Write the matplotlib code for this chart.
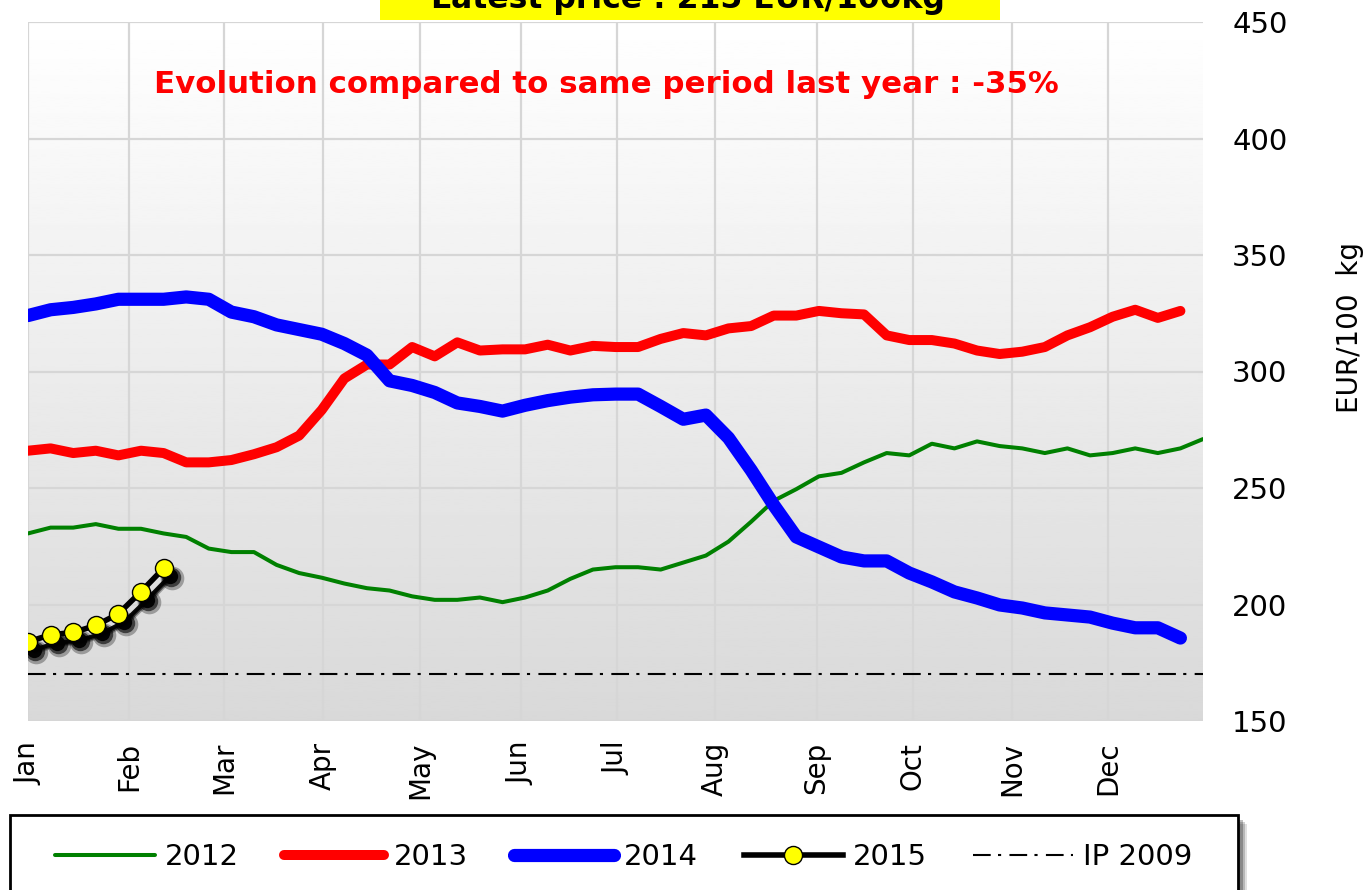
import numpy as np
import matplotlib
matplotlib.use("Agg")
import matplotlib.pyplot as plt
from matplotlib.transforms import offset_copy
from matplotlib.patches import Rectangle

# weekly prices, EUR/100 kg (week index 0..)
y2012 = [230.5, 233, 233, 234.5, 232.5, 232.5, 230.5, 229, 224, 222.5,
         222.5, 217, 213.5, 211.5, 209, 207, 206, 203.5, 202, 202,
         203, 201, 203, 206, 211, 215, 216, 216, 215, 218,
         221, 227, 235.5, 244.5, 249.5, 255, 256.5, 261, 265, 264,
         269, 267, 270, 268, 267, 265, 267, 264, 265, 267,
         265, 267, 271]
y2013 = [266, 267, 265, 266, 264, 266, 265, 261, 261, 262,
         264.5, 267.5, 272.5, 283.5, 297, 303, 303, 310.5, 306.5, 312.5,
         309, 309.5, 309.5, 311.5, 309, 311, 310.5, 310.5, 314, 316.5,
         315.5, 318.5, 319.5, 324, 324, 326, 325, 324.5, 315.5, 313.5,
         313.5, 312, 309, 307.5, 308.5, 310.5, 315.5, 319, 323.5, 326.5,
         323, 326]
y2014 = [324, 326.5, 327.5, 329, 331, 331, 331, 332, 331, 325.5,
         323.5, 320, 318, 316, 312, 307, 296, 294, 291, 286.5,
         285, 283, 285.5, 287.5, 289, 290, 290.3, 290.3, 285, 279.5,
         281.3, 271.5, 257.7, 242.7, 229, 224.7, 220.4, 218.7, 218.7, 213.5,
         209.7, 205.4, 202.8, 199.8, 198.5, 196.4, 195.5, 194.6, 192, 190,
         190, 185.6]
y2015 = [184, 187, 188, 191, 196, 205.5, 215.5]
ip2009 = 170

months = ["Jan", "Feb", "Mar", "Apr", "May", "Jun",
          "Jul", "Aug", "Sep", "Oct", "Nov", "Dec"]
month_pos = [0, 4.47, 8.67, 13.05, 17.35, 21.8, 26.06, 30.4, 34.9, 39.16, 43.54, 47.79]

W, H = 1371, 890
fig = plt.figure(figsize=(W / 100, H / 100), dpi=100)
ax = fig.add_axes([28 / W, 1 - 721 / H, 1175 / W, 699 / H])

# grey gradient background
grad = np.linspace(0.85, 1.0, 256).reshape(-1, 1)
ax.imshow(grad, extent=[0, 52, 150, 450], origin="lower", aspect="auto",
          cmap="gray", vmin=0, vmax=1, zorder=0)

l12, = ax.plot(np.arange(len(y2012)), y2012, color="#008000", lw=2.9,
               solid_joinstyle="round", solid_capstyle="round", label="2012", zorder=3)
l13, = ax.plot(np.arange(len(y2013)), y2013, color="#ff0000", lw=7.2,
               solid_joinstyle="round", solid_capstyle="round", label="2013", zorder=3)
l14, = ax.plot(np.arange(len(y2014)), y2014, color="#0000ff", lw=9.5,
               solid_joinstyle="round", solid_capstyle="round", label="2014", zorder=3)

# soft drop shadow for 2015
x15 = np.arange(len(y2015))
for off, ms, a in [(8, 17, 0.3), (7, 14, 0.6), (6, 11, 0.95)]:
    tr = offset_copy(ax.transData, fig=fig, x=off, y=-off - 2, units="dots")
    ax.plot(x15, y2015, color="black", lw=3, marker="o", ms=ms, mfc="black",
            mec="none", alpha=a, transform=tr, zorder=4)
l15, = ax.plot(x15, y2015, color="black", lw=4, marker="o", ms=13,
               mfc="#ffff00", mec="black", mew=1, label="2015", zorder=5)

lip = ax.axhline(ip2009, color="black", lw=1.5, dashes=(8.5, 3.5, 1.5, 4),
                 label="IP 2009", zorder=2)

ax.set_xlim(0, 52)
ax.set_ylim(150, 450)
ax.set_yticks(range(150, 451, 50))
ax.set_xticks(month_pos)
ax.set_xticklabels(months, rotation=90, va="top", ha="center")
ax.yaxis.tick_right()
ax.tick_params(axis="y", length=0, pad=21, labelsize=21)
ax.tick_params(axis="x", length=0, pad=15, labelsize=20)
ax.grid(True, color="#d6d6d6", lw=1.6, zorder=1)
for s in ax.spines.values():
    s.set_visible(False)

fig.text(1350 / W, 1 - 328 / H, "EUR/100  kg", rotation=90,
         ha="center", va="center", fontsize=20)

fig.text(606 / W, 1 - 93 / H, "Evolution compared to same period last year : -35%",
         ha="center", va="baseline", fontsize=22.2, fontweight="bold", color="#ff0000")

fig.patches.append(Rectangle((380 / W, 1 - 20 / H), 620 / W, 30 / H,
                             transform=fig.transFigure, facecolor="#ffff00",
                             edgecolor="none", zorder=1))
fig.text(688 / W, 1 - 8 / H, "Latest price : 215 EUR/100kg",
         ha="center", va="baseline", fontsize=22.7, fontweight="bold", color="black", zorder=2)

# legend frame with a soft shadow, drawn by hand so it can run off the bottom
for off, a in [(9, 0.12), (7, 0.18), (5, 0.25)]:
    fig.patches.append(Rectangle(((10 + off) / W, 1 - (900 + off) / H), 1228 / W, 85 / H,
                                 transform=fig.transFigure, facecolor="black",
                                 edgecolor="none", alpha=a, zorder=1))
fig.patches.append(Rectangle((10 / W, 1 - 900 / H), 1228 / W, 85 / H,
                             transform=fig.transFigure, facecolor="white",
                             edgecolor="black", lw=2, zorder=2))

leg = fig.legend(handles=[l12, l13, l14, l15, lip], loc="center left",
                 bbox_to_anchor=(55 / W, 1 - 857 / H), ncol=5, fontsize=21,
                 frameon=False, handlelength=3.42, handletextpad=0.34,
                 columnspacing=1.57, borderpad=0, borderaxespad=0)
leg.set_zorder(3)

fig.savefig("out.png", dpi=100)
